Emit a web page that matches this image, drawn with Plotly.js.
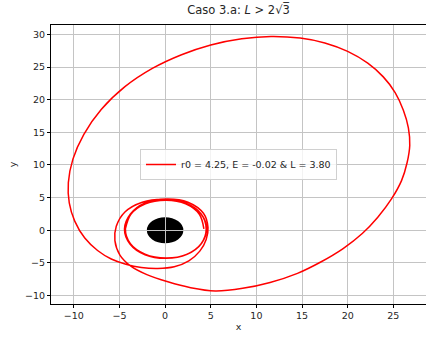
<!DOCTYPE html>
<html>
<head>
<meta charset="utf-8">
<script src="https://cdn.plot.ly/plotly-3.0.1.min.js"></script>
<style>
  html, body { margin: 0; padding: 0; background: #fff; }
  #chart { width: 426px; height: 340px; }
</style>
</head>
<body>
<div id="chart"></div>
<script>
// Orbit parameters shown in the legend
const r0 = 4.25;
const energy = -0.02;
const angMomentum = 3.80;

// Event horizon radius (black disk at the origin)
const horizonRadius = 2;

// First whirl around the hole, starting near r0
const whirlStartX = [4.25, 3.75, 2.25, 0.1, -2.15, -3.75, -4.35, -3.8, -2.2, 0.1, 2.35, 3.95, 4.5, 3.95, 2.3];
const whirlStartY = [0.2, 2.45, 4.05, 4.6, 4.05, 2.45, 0.2, -2.05, -3.65, -4.25, -3.7, -2.05, 0.2, 2.5, 4.15];

// Spiralling out of the whirl zone
const outgoingX = [0.0, -2.5, -4.4, -5.35, -5.5, -4.95, -3.75, -2.0, 0.3, 2.8];
const outgoingY = [4.75, 4.3, 2.8, 0.6, -1.6, -3.8, -5.5, -6.8, -7.9, -8.8];

// Large excursion out to apoapsis and back
const bigLoopX = [5.5, 8.5, 11.5, 14.5, 17.0, 19.5, 21.6, 23.3, 24.8, 25.9, 26.5, 26.8, 26.65, 26.1, 25.2, 23.9, 22.2, 20.0, 17.5, 14.8, 11.6, 8.4, 5.0, 1.8, -1.4, -4.4, -7.0, -8.9, -10.1, -10.6, -10.5, -9.9, -8.8, -7.4, -5.9];
const bigLoopY = [-9.3, -8.9, -8.0, -6.6, -4.9, -2.8, -0.5, 2.0, 4.8, 7.6, 10.3, 13.0, 15.7, 18.4, 21.1, 23.5, 25.6, 27.4, 28.7, 29.45, 29.7, 29.35, 28.4, 26.9, 24.8, 22.0, 18.5, 14.7, 10.9, 7.3, 4.2, 1.4, -1.2, -3.1, -4.4];

// Falling back in towards the hole
const incomingX = [-4.3, -2.6, -0.8, 1.0, 2.6, 3.8, 4.5];
const incomingY = [-5.2, -5.7, -5.85, -5.6, -4.7, -3.2, -1.4];

// Second whirl
const whirlEndX = [4.7, 4.2, 2.5, 0.2, -2.2, -3.8, -4.45, -3.85, -2.2, 0.1, 2.4, 4.0, 4.55, 3.95, 2.3, 0.1, -2.15, -3.75, -4.35];
const whirlEndY = [0.4, 2.6, 4.3, 4.8, 4.2, 2.5, 0.2, -2.1, -3.75, -4.3, -3.7, -2.0, 0.25, 2.5, 4.1, 4.65, 4.1, 2.45, 0.2];

const orbitX = [].concat(whirlStartX, outgoingX, bigLoopX, incomingX, whirlEndX);
const orbitY = [].concat(whirlStartY, outgoingY, bigLoopY, incomingY, whirlEndY);

const legendLabel = 'r0 = ' + r0.toFixed(2) + ', E = ' + energy.toFixed(2) +
                    ' &amp; L = ' + angMomentum.toFixed(2);

const font = 'DejaVu Sans, sans-serif';
const textColor = '#262626';

const traces = [{
  x: orbitX,
  y: orbitY,
  type: 'scatter',
  mode: 'lines',
  name: legendLabel,
  line: { color: '#ff0000', width: 1.5, shape: 'spline', smoothing: 1 }
}];

const axisCommon = {
  showgrid: true,
  gridcolor: '#c4c4c4',
  gridwidth: 1,
  zeroline: false,
  showline: true,
  linecolor: '#000',
  linewidth: 1,
  ticks: 'outside',
  ticklen: 3,
  tickwidth: 1,
  tickcolor: '#000',
  dtick: 5,
  tickfont: { family: font, size: 9.5, color: textColor }
};

const layout = {
  width: 426,
  height: 340,
  margin: { l: 51, r: 0, t: 25, b: 36 },
  paper_bgcolor: '#fff',
  plot_bgcolor: 'rgba(0,0,0,0)',
  showlegend: true,
  title: {
    text: 'Caso 3.a: <i>L</i> > 2√3\u0305',
    font: { family: font, size: 11.5, color: textColor },
    x: 0.5, xanchor: 'center', xref: 'paper',
    y: 1, yref: 'container', yanchor: 'top', pad: { t: 6 }
  },
  xaxis: Object.assign({}, axisCommon, {
    range: [-12.5, 28.58],
    mirror: true,
    title: { text: 'x', font: { family: font, size: 9.5, color: textColor }, standoff: 2 }
  }),
  yaxis: Object.assign({}, axisCommon, {
    range: [-11.3, 31.45],
    mirror: false,
    title: { text: 'y', font: { family: font, size: 9.5, color: textColor }, standoff: 6 }
  }),
  legend: {
    x: 0.5, y: 0.5, xanchor: 'center', yanchor: 'middle',
    xref: 'paper', yref: 'paper',
    bgcolor: 'rgba(255,255,255,0.8)',
    bordercolor: '#d0d0d0',
    borderwidth: 1,
    font: { family: font, size: 9.5, color: textColor },
    itemwidth: 30
  },
  shapes: [{
    type: 'circle',
    xref: 'x', yref: 'y',
    x0: -horizonRadius, x1: horizonRadius,
    y0: -horizonRadius, y1: horizonRadius,
    fillcolor: '#000',
    line: { width: 0 },
    layer: 'below'
  }]
};

Plotly.newPlot('chart', traces, layout, { staticPlot: true, displayModeBar: false });
</script>
</body>
</html>
